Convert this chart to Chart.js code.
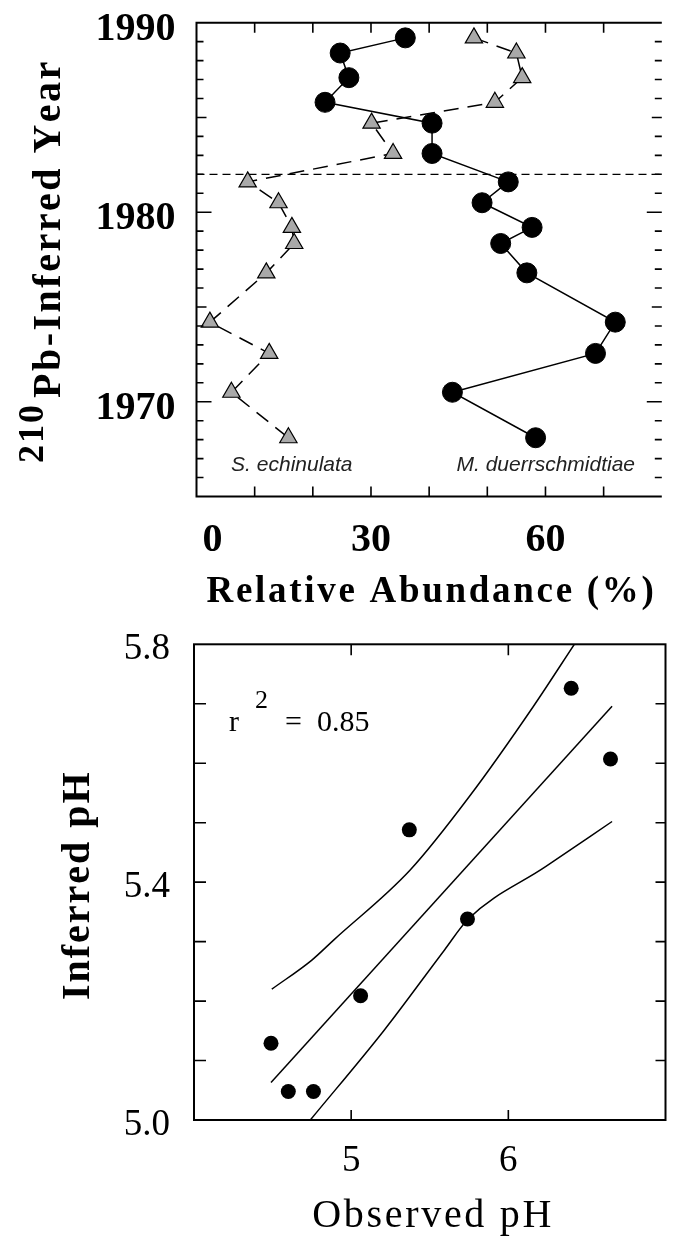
<!DOCTYPE html>
<html>
<head>
<meta charset="utf-8">
<script src="https://cdn.jsdelivr.net/npm/chart.js@4.4.1/dist/chart.umd.min.js"></script>
<style>
  html, body { margin: 0; padding: 0; background: #fff; overflow: hidden; width: 673px; height: 1239px; }
  canvas { position: absolute; left: 0; }
  #coreChart { top: 0; }
  #phChart { top: 620px; }
</style>
</head>
<body>
<canvas id="coreChart" width="673" height="620"></canvas>
<canvas id="phChart" width="673" height="619"></canvas>
<script>
// core samples: 210Pb year and relative abundance (%) of the two taxa
const sampleYears = [1989.2, 1988.4, 1987.1, 1985.8, 1984.7, 1983.1, 1981.6, 1980.5, 1979.2, 1978.35, 1976.8, 1974.2, 1972.55, 1970.5, 1968.1];
const mDuerrschmidtiae = [35.9, 24.7, 26.2, 22.1, 40.5, 40.5, 53.6, 49.1, 57.7, 52.3, 56.8, 72.0, 68.6, 44.0, 58.3];
const sEchinulata = [47.7, 55.0, 56.0, 51.3, 30.1, 33.8, 8.8, 14.1, 16.4, 16.8, 12.0, 2.3, 12.5, 6.0, 15.8];
const markerYear = 1982;
const yearTickLabels = [1970, 1980, 1990];
const abundanceTickLabels = [0, 30, 60];

// inferred vs observed pH
const observedPH = [6.40, 6.65, 5.37, 5.74, 5.06, 4.49, 4.60, 4.76];
const inferredPH = [5.726, 5.607, 5.488, 5.338, 5.209, 5.129, 5.048, 5.048];
const fitX = [4.49, 6.66];
const fitY = [5.063, 5.696];
const upperX = [4.495, 4.75, 4.89, 5.374, 5.752, 6.158, 6.42];
const upperY = [5.220, 5.269, 5.303, 5.420, 5.544, 5.695, 5.800];
const lowerX = [4.74, 5.21, 5.594, 5.745, 6.237, 6.66];
const lowerY = [5.000, 5.151, 5.286, 5.338, 5.426, 5.502];
const phXTickLabels = [5, 6];
const phYTickLabels = [5.0, 5.4, 5.8];
const rSquared = '0.85';

// where the taxon names sit (data units)
const speciesLabels = [
  { text: 'S. echinulata', x: 5.95, y: 1966.35 },
  { text: 'M. duerrschmidtiae', x: 44.7, y: 1966.35 }
];

const serif = '"Liberation Serif", "Times New Roman", serif';

function pts(xs, ys) {
  return xs.map((x, i) => ({ x: x, y: ys[i] }));
}

// canvas text with extra letter spacing
function spacedText(ctx, text, x, y, spacing, align) {
  const chars = [...text];
  const widths = chars.map(ch => ctx.measureText(ch).width);
  const total = widths.reduce((a, b) => a + b, 0) + spacing * (chars.length - 1);
  let cx = align === 'center' ? x - total / 2 : x;
  const oldAlign = ctx.textAlign;
  ctx.textAlign = 'left';
  chars.forEach((ch, i) => {
    ctx.fillText(ch, cx, y);
    cx += widths[i] + spacing;
  });
  ctx.textAlign = oldAlign;
  return total;
}

const corePlugin = {
  id: 'coreFrame',
  afterDraw(chart) {
    const { ctx, chartArea: a } = chart;
    const x = chart.scales.x, y = chart.scales.y;
    ctx.save();
    ctx.strokeStyle = '#000';
    ctx.fillStyle = '#000';
    ctx.lineWidth = 2;
    // right edge of this panel runs off the page, so only three sides show
    ctx.beginPath();
    ctx.moveTo(a.right, a.top);
    ctx.lineTo(a.left, a.top);
    ctx.lineTo(a.left, a.bottom);
    ctx.lineTo(a.right, a.bottom);
    ctx.stroke();

    // inward ticks
    ctx.lineWidth = 1.6;
    ctx.beginPath();
    for (let yr = y.min + 1; yr < y.max; yr++) {
      const py = y.getPixelForValue(yr);
      const len = yr % 10 === 0 ? 15 : (yr % 5 === 0 ? 10 : 7);
      ctx.moveTo(a.left, py); ctx.lineTo(a.left + len, py);
      ctx.moveTo(a.right, py); ctx.lineTo(a.right - len, py);
    }
    for (let v = x.min + 10; v < x.max; v += 10) {
      const px = x.getPixelForValue(v);
      ctx.moveTo(px, a.bottom); ctx.lineTo(px, a.bottom - 10);
      ctx.moveTo(px, a.top); ctx.lineTo(px, a.top + 10);
    }
    ctx.stroke();

    // tick labels
    ctx.font = 'bold 40px ' + serif;
    ctx.textBaseline = 'alphabetic';
    ctx.textAlign = 'right';
    yearTickLabels.forEach(v => ctx.fillText(String(v), a.left - 21, y.getPixelForValue(v) + 17));
    abundanceTickLabels.forEach(v => {
      const px = x.getPixelForValue(v);
      if (v === x.min) {
        ctx.textAlign = 'left';
        ctx.fillText(String(v), px + 6, a.bottom + 54);
      } else {
        ctx.textAlign = 'center';
        ctx.fillText(String(v), px, a.bottom + 54);
      }
    });

    // taxon names
    ctx.font = 'italic 21px "Liberation Sans", Arial, sans-serif';
    ctx.fillStyle = '#222';
    ctx.textAlign = 'left';
    speciesLabels.forEach(s => ctx.fillText(s.text, x.getPixelForValue(s.x), y.getPixelForValue(s.y)));
    ctx.fillStyle = '#000';

    // x title
    ctx.font = 'bold 37px ' + serif;
    spacedText(ctx, 'Relative Abundance (%)', (a.left + a.right) / 2 + 1, a.bottom + 105.5, 2.7, 'center');

    // y title with superscript 210
    ctx.save();
    ctx.translate(60, a.bottom - 33.5);
    ctx.rotate(-Math.PI / 2);
    ctx.font = 'bold 36px ' + serif;
    spacedText(ctx, '210', 0, -17, 2, 'left');
    ctx.font = 'bold 40px ' + serif;
    spacedText(ctx, 'Pb-Inferred Year', 65, 0, 2.5, 'left');
    ctx.restore();

    ctx.restore();
  }
};

const phPlugin = {
  id: 'phFrame',
  afterDraw(chart) {
    const { ctx, chartArea: a } = chart;
    const x = chart.scales.x, y = chart.scales.y;
    ctx.save();
    ctx.strokeStyle = '#000';
    ctx.fillStyle = '#000';
    ctx.lineWidth = 2;
    ctx.strokeRect(a.left, a.top, a.right - a.left, a.bottom - a.top);

    ctx.lineWidth = 1.6;
    ctx.beginPath();
    for (let k = 1; k < 8; k++) {
      const py = y.getPixelForValue(y.min + k * 0.1);
      ctx.moveTo(a.left, py); ctx.lineTo(a.left + 12, py);
      ctx.moveTo(a.right, py); ctx.lineTo(a.right - 10, py);
    }
    phXTickLabels.forEach(v => {
      const px = x.getPixelForValue(v);
      ctx.moveTo(px, a.bottom); ctx.lineTo(px, a.bottom - 10);
      ctx.moveTo(px, a.top); ctx.lineTo(px, a.top + 11);
    });
    ctx.stroke();

    ctx.font = '37px ' + serif;
    ctx.textBaseline = 'alphabetic';
    ctx.textAlign = 'right';
    phYTickLabels.forEach(v => ctx.fillText(v.toFixed(1), a.left - 24, y.getPixelForValue(v) + 15));
    ctx.textAlign = 'center';
    phXTickLabels.forEach(v => ctx.fillText(String(v), x.getPixelForValue(v), a.bottom + 51));

    // r squared note
    ctx.textAlign = 'left';
    ctx.font = '30px ' + serif;
    ctx.fillText('r', a.left + 35, a.top + 86.7);
    ctx.fillText('=', a.left + 91, a.top + 86.7);
    ctx.fillText(rSquared, a.left + 123, a.top + 86.7);
    ctx.font = '26px ' + serif;
    ctx.fillText('2', a.left + 61, a.top + 64);

    // titles
    ctx.font = '40px ' + serif;
    spacedText(ctx, 'Observed pH', (a.left + a.right) / 2 + 2, a.bottom + 107, 2.7, 'center');
    ctx.save();
    ctx.translate(89, (a.top + a.bottom) / 2 + 4);
    ctx.rotate(-Math.PI / 2);
    ctx.font = 'bold 40px ' + serif;
    spacedText(ctx, 'Inferred pH', 0, 0, 2, 'center');
    ctx.restore();

    ctx.restore();
  }
};

new Chart(document.getElementById('coreChart'), {
  type: 'scatter',
  data: {
    datasets: [
      {
        label: 'M. duerrschmidtiae',
        data: pts(mDuerrschmidtiae, sampleYears),
        showLine: true,
        borderColor: '#000',
        borderWidth: 1.5,
        pointStyle: 'circle',
        pointRadius: 10,
        pointHoverRadius: 10,
        pointBackgroundColor: '#000',
        pointBorderColor: '#000',
        pointBorderWidth: 1
      },
      {
        label: 'S. echinulata',
        data: pts(sEchinulata, sampleYears),
        showLine: true,
        borderColor: '#000',
        borderWidth: 1.5,
        borderDash: [15, 9],
        pointStyle: 'triangle',
        pointRadius: 10,
        pointHoverRadius: 10,
        pointBackgroundColor: '#a9a9a9',
        pointBorderColor: '#000',
        pointBorderWidth: 1.2
      },
      {
        label: 'cutoff',
        data: [{ x: 0, y: markerYear }, { x: 80, y: markerYear }],
        showLine: true,
        borderColor: '#000',
        borderWidth: 1.3,
        borderDash: [8, 5],
        pointRadius: 0
      }
    ]
  },
  options: {
    responsive: false,
    animation: false,
    layout: { padding: { left: 196.5, top: 22.7, right: 0, bottom: 123.5 } },
    plugins: { legend: { display: false }, tooltip: { enabled: false } },
    scales: {
      x: { type: 'linear', display: false, min: 0, max: 80 },
      y: { type: 'linear', display: false, min: 1965, max: 1990 }
    }
  },
  plugins: [corePlugin]
});

new Chart(document.getElementById('phChart'), {
  type: 'scatter',
  data: {
    datasets: [
      {
        label: 'samples',
        data: pts(observedPH, inferredPH),
        pointRadius: 7.5,
        pointHoverRadius: 7.5,
        pointBackgroundColor: '#000',
        pointBorderColor: '#000',
        pointBorderWidth: 0
      },
      {
        label: 'fit',
        data: pts(fitX, fitY),
        showLine: true,
        borderColor: '#000',
        borderWidth: 1.5,
        pointRadius: 0
      },
      {
        label: 'upper',
        data: pts(upperX, upperY),
        showLine: true,
        cubicInterpolationMode: 'monotone',
        borderColor: '#000',
        borderWidth: 1.5,
        pointRadius: 0
      },
      {
        label: 'lower',
        data: pts(lowerX, lowerY),
        showLine: true,
        cubicInterpolationMode: 'monotone',
        borderColor: '#000',
        borderWidth: 1.5,
        pointRadius: 0
      }
    ]
  },
  options: {
    responsive: false,
    animation: false,
    layout: { padding: { left: 194, top: 24.3, right: 3.3, bottom: 119 } },
    plugins: { legend: { display: false }, tooltip: { enabled: false } },
    scales: {
      x: { type: 'linear', display: false, min: 4, max: 7 },
      y: { type: 'linear', display: false, min: 5.0, max: 5.8 }
    }
  },
  plugins: [phPlugin]
});
</script>
</body>
</html>
